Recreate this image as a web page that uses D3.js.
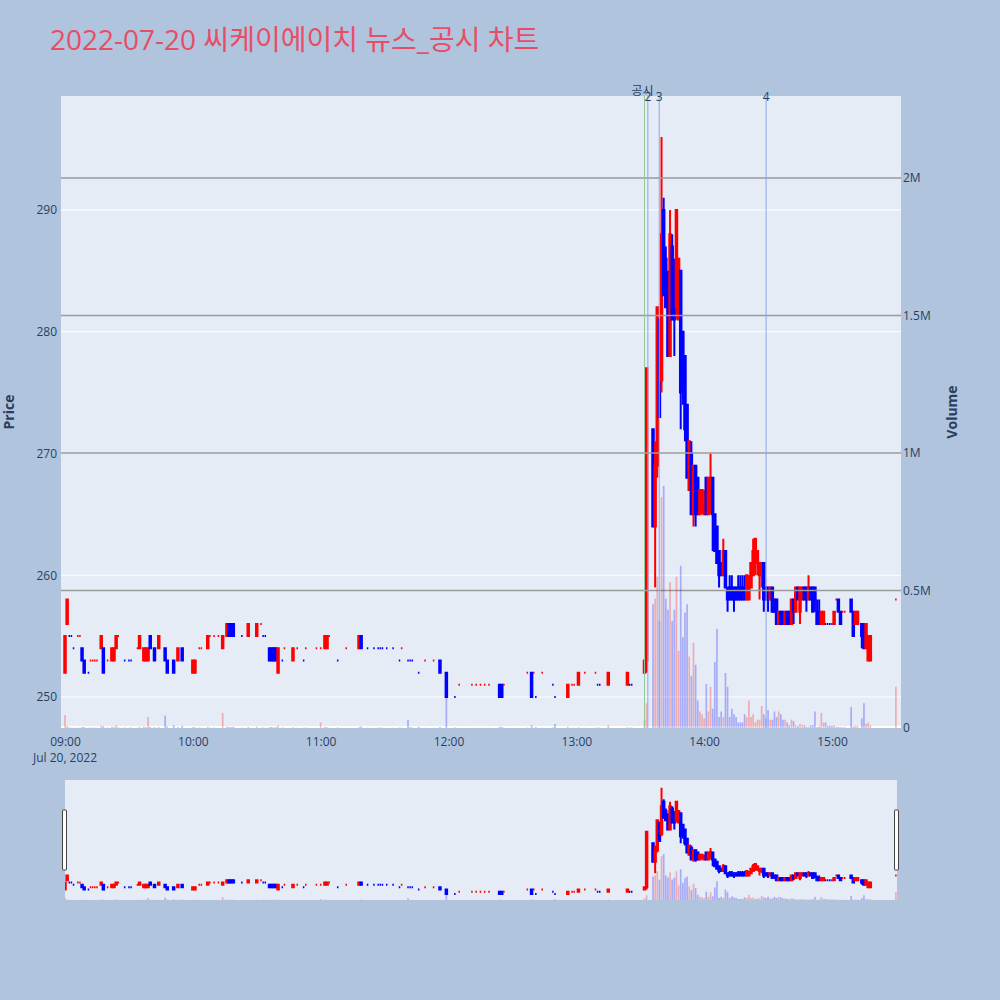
<!DOCTYPE html>
<html lang="ko">
<head>
<meta charset="UTF-8">
<title>씨케이에이치 뉴스_공시 차트</title>
<script src="https://d3js.org/d3.v7.min.js"></script>
<style>
    body { margin: 0; background: #b0c4de; }
    svg { display: block; font-family: "Open Sans", "Noto Sans CJK KR", sans-serif; }
</style>
</head>
<body>
<svg width="1000" height="1000"></svg>
<script>
    // one-minute candles, 2022-07-20
    var times = [
        "09:00","09:01","09:02","09:03","09:04","09:06","09:07","09:08","09:09","09:11",
        "09:12","09:13","09:14","09:15","09:17","09:18","09:20","09:22","09:23","09:24",
        "09:25","09:28","09:30","09:31","09:34","09:35","09:37","09:38","09:39","09:40",
        "09:42","09:44","09:47","09:48","09:51","09:53","09:55","10:00","10:01","10:03",
        "10:04","10:07","10:08","10:10","10:12","10:14","10:16","10:17","10:18","10:19",
        "10:23","10:26","10:30","10:32","10:33","10:34","10:36","10:37","10:38","10:39",
        "10:40","10:42","10:43","10:47","10:49","10:52","10:53","10:58","11:00","11:02",
        "11:03","11:04","11:08","11:12","11:18","11:19","11:22","11:25","11:27","11:28",
        "11:29","11:31","11:34","11:37","11:38","11:41","11:42","11:43","11:46","11:49",
        "11:53","11:56","11:59","12:03","12:05","12:11","12:13","12:15","12:17","12:19",
        "12:24","12:25","12:26","12:37","12:39","12:40","12:41","12:44","12:49","12:50",
        "12:56","12:58","12:59","13:01","13:04","13:09","13:10","13:11","13:15","13:24",
        "13:25","13:26","13:32","13:33",
        "13:36","13:37","13:38","13:39","13:40","13:41","13:42","13:43","13:44","13:45",
        "13:46","13:47","13:48","13:49","13:50","13:51","13:52","13:53","13:54","13:55",
        "13:56","13:57","13:58","13:59","14:00","14:01","14:02","14:03","14:04","14:05",
        "14:06","14:07","14:08","14:09","14:10","14:11","14:12","14:13","14:14","14:15",
        "14:16","14:17","14:18","14:19","14:20","14:21","14:22","14:23","14:24","14:25",
        "14:26","14:27","14:28","14:29","14:30","14:31","14:32","14:33","14:34","14:35",
        "14:36","14:37","14:38","14:39","14:40","14:41","14:42","14:43","14:44","14:45",
        "14:46","14:47","14:48","14:49","14:50","14:51","14:52","14:53","14:54","14:55",
        "14:56","14:57","14:58","14:59","15:00","15:01","15:02","15:03","15:04","15:05",
        "15:06","15:09","15:10","15:11","15:12","15:14","15:15","15:16","15:17","15:18",
        "15:30"
    ];
    var opens = [
        252,256,255,255,254,255,255,254,253,252,
        253,253,253,253,254,254,253,253,253,254,
        255,253,253,253,254,254,253,253,253,255,
        254,254,254,253,253,253,254,252,252,254,
        254,254,255,255,255,254,255,256,256,256,
        255,255,255,256,255,255,254,254,254,254,
        252,253,254,253,254,253,254,254,254,254,
        254,255,253,254,254,255,254,254,254,254,
        254,254,254,253,254,253,253,253,252,253,
        253,253,252,250,251,251,251,251,251,251,
        251,251,251,252,252,252,250,252,251,250,
        250,251,251,251,252,252,251,251,251,251,
        251,251,252,253,
        272,264,269,281,276,290,286,284,278,287,
        284,282,281,285,280,278,274,267,270,265,
        269,268,265,266,265,268,265,266,268,265,
        264,262,261,260,262,259,259,259,259,259,
        259,259,259,259,258,258,259,260,261,261,
        260,260,261,259,259,258,259,258,258,256,
        257,257,256,257,257,256,258,257,259,257,
        258,259,259,258,259,259,259,257,257,256,
        256,256,256,256,256,256,258,258,257,257,
        257,258,257,256,256,256,256,254,253,253,
        258
    ];
    var highs = [
        255,258,255,255,254,255,255,254,253,252,
        253,253,253,253,255,254,253,254,254,255,
        255,253,253,253,254,255,254,254,254,255,
        254,255,254,253,253,254,254,253,253,254,
        254,255,255,255,255,255,256,256,256,256,
        255,256,256,256,255,255,254,254,254,254,
        254,253,254,254,254,253,254,254,254,255,
        255,255,253,254,255,255,254,254,254,254,
        254,254,254,253,254,253,253,253,252,253,
        253,253,252,250,251,251,251,251,251,251,
        251,251,251,252,252,252,250,252,251,250,
        251,251,251,252,252,252,251,251,252,252,
        251,251,253,277,
        272,271,282,281,296,291,287,285,290,288,
        286,290,286,285,280,278,274,271,271,269,
        269,268,267,267,267,268,268,270,268,265,
        264,262,261,263,262,259,260,260,259,259,
        260,260,260,260,260,260,261,263,263,262,
        261,261,261,259,259,259,259,258,258,257,
        257,257,257,257,257,258,258,259,259,259,
        259,259,259,260,259,259,259,258,258,257,
        257,256,256,256,256,257,258,258,257,257,
        257,258,257,257,257,256,256,256,255,255,
        258
    ];
    var lows = [
        252,256,255,255,254,255,255,253,252,252,
        253,253,253,253,254,252,253,253,253,254,
        255,253,253,253,254,254,253,253,253,254,
        253,254,253,252,252,253,253,252,252,254,
        254,254,255,255,255,254,255,255,255,255,
        255,255,255,256,255,255,253,253,253,253,
        252,253,254,253,254,253,254,254,254,254,
        254,255,253,254,254,254,254,254,254,254,
        254,254,254,253,254,253,253,253,252,253,
        253,252,250,250,251,251,251,251,251,251,
        250,250,251,252,250,252,250,252,251,250,
        250,251,251,251,252,252,251,251,251,251,
        251,251,252,252,
        264,259,268,273,275,283,282,278,278,281,
        278,281,281,272,274,271,268,267,265,264,
        264,265,265,265,265,265,265,265,262,262,
        261,259,260,260,259,257,258,258,257,258,
        258,258,258,258,258,258,259,260,260,260,
        258,259,257,258,257,258,257,257,256,256,
        256,256,256,256,256,256,256,257,258,256,
        258,258,257,258,258,257,257,256,256,256,
        256,256,256,256,256,256,258,257,256,257,
        257,257,255,256,256,254,254,254,253,253,
        258
    ];
    var closes = [
        255,258,255,255,254,255,255,253,252,252,
        253,253,253,253,255,252,253,254,254,255,
        255,253,253,253,254,255,254,254,254,254,
        253,255,253,252,252,254,253,253,253,254,
        254,255,255,255,255,255,256,255,255,255,
        255,256,256,256,255,255,253,253,253,253,
        254,253,254,254,254,253,254,254,254,255,
        255,255,253,254,255,254,254,254,254,254,
        254,254,254,253,254,253,253,253,252,253,
        253,252,250,250,251,251,251,251,251,251,
        250,250,251,252,250,252,250,252,251,250,
        251,251,251,252,252,252,251,251,252,252,
        251,251,253,277,
        264,269,282,273,288,283,282,278,288,281,
        281,290,286,275,276,272,268,271,265,269,
        265,265,267,267,266,265,268,268,265,262,
        261,260,260,262,259,258,258,258,258,258,
        258,258,258,258,260,259,261,262,263,262,
        261,261,258,258,258,259,257,257,256,257,
        256,256,257,256,256,258,257,259,258,259,
        259,258,258,259,258,257,258,256,256,257,
        257,256,256,256,256,257,258,257,256,257,
        257,257,255,257,257,255,254,256,255,255,
        258
    ];
    // thousand shares
    var volumeK = [
        47,8,2,1,1,2,1,3,4,1,
        2,1,2,1,8,6,2,5,4,10,
        3,2,1,2,1,5,6,4,40,4,
        3,4,45,6,10,4,8,4,3,2,
        1,5,2,2,1,55,6,4,3,5,
        1,4,5,1,2,1,3,4,2,3,
        10,2,1,3,1,1,2,1,20,5,
        3,1,2,1,4,6,1,1,1,2,
        1,1,1,2,1,30,3,2,5,1,
        1,4,200,2,1,1,1,1,1,1,
        5,4,1,2,10,1,3,1,2,15,
        5,1,1,3,1,1,2,1,10,3,
        1,2,30,90,
        450,470,550,390,840,880,470,430,530,390,
        430,550,280,590,330,420,450,260,190,310,
        230,100,60,50,35,160,60,150,70,240,
        360,40,60,40,200,150,40,70,50,40,
        20,20,20,50,40,100,40,50,20,30,
        30,80,50,35,65,30,30,60,40,60,
        50,30,30,20,10,30,25,10,7,15,
        10,10,5,5,10,10,60,3,6,55,
        20,20,8,8,8,10,5,4,3,3,
        3,76,5,8,8,35,90,15,20,10,
        150
    ];

    var hourTicks = ["09:00","10:00","11:00","12:00","13:00","14:00","15:00"];
    var priceTicks = [250, 260, 270, 280, 290];
    var volumeTicks = [0, 500000, 1000000, 1500000, 2000000];
    var volumeTickLabels = ["0", "0.5M", "1M", "1.5M", "2M"];
    // news / disclosure markers
    var markerTimes = ["13:32:00", "13:33:35", "13:38:55", "14:29:05"];
    var markerLabels = ["공시", "2", "3", "4"];

    var day = "2022-07-20 ";
    var parseMin = d3.timeParse("%Y-%m-%d %H:%M");
    var parseSec = d3.timeParse("%Y-%m-%d %H:%M:%S");
    var textColor = "#2a3f5f";
    var upColor = "#ff0000", downColor = "#0000ff";

    // same up/down rule as plotly: flat candles compare against the previous close
    var data = [];
    var prevClose = null, prevUp = true;
    times.forEach(function (t, i) {
        var o = opens[i], c = closes[i], up;
        if (c > o) up = true;
        else if (c < o) up = false;
        else if (prevClose !== null && c !== prevClose) up = c > prevClose;
        else up = prevUp;
        prevUp = up;
        prevClose = c;
        data.push({date: parseMin(day + t), o: o, h: highs[i], l: lows[i], c: c,
                   v: volumeK[i] * 1000, up: up});
    });

    var plot = {left: 61, right: 901, top: 96, bottom: 728};
    var slider = {left: 65, right: 897, top: 780, bottom: 900};

    var t0 = parseMin(day + "09:00");
    var x = d3.scaleTime()
        .domain([d3.timeSecond.offset(t0, -113), d3.timeSecond.offset(t0, 23544)])
        .range([plot.left, plot.right]);
    var yPrice = d3.scaleLinear().domain([247.454, 299.36]).range([plot.bottom, plot.top]);
    var yVol = d3.scaleLinear().domain([0, 2298000]).range([plot.bottom, plot.top]);
    var yPriceS = yPrice.copy().range([slider.bottom, slider.top]);
    var yVolS = yVol.copy().range([slider.bottom, slider.top]);

    var svg = d3.select("svg");
    svg.append("rect").attr("width", 1000).attr("height", 1000).attr("fill", "#b0c4de");

    svg.append("text")
        .attr("x", 50)
        .attr("y", 50)
        .attr("font-size", "28px")
        .attr("fill", "#e84d66")
        .text("2022-07-20 씨케이에이치 뉴스_공시 차트");

    var defs = svg.append("defs");
    defs.append("clipPath").attr("id", "clipMain").append("rect")
        .attr("x", plot.left).attr("y", plot.top)
        .attr("width", plot.right - plot.left).attr("height", plot.bottom - plot.top);
    defs.append("clipPath").attr("id", "clipSlider").append("rect")
        .attr("x", slider.left).attr("y", slider.top)
        .attr("width", slider.right - slider.left).attr("height", slider.bottom - slider.top);

    svg.append("rect")
        .attr("x", plot.left).attr("y", plot.top)
        .attr("width", plot.right - plot.left).attr("height", plot.bottom - plot.top)
        .attr("fill", "#e5ecf6");

    // price grid (white)
    svg.append("g").selectAll("line")
        .data(priceTicks)
        .enter().append("line")
        .attr("x1", plot.left).attr("x2", plot.right)
        .attr("y1", function (d) { return yPrice(d); })
        .attr("y2", function (d) { return yPrice(d); })
        .attr("stroke", "#ffffff").attr("stroke-width", 1);

    function candlePath(d, xs, ys) {
        var xc = xs(d.date), hw = 0.75;
        var yo = ys(d.o), yc = ys(d.c), yh = ys(d.h), yl = ys(d.l);
        var top = Math.min(yo, yc), bot = Math.max(yo, yc);
        return "M" + (xc - hw) + "," + top + "H" + (xc + hw) + "V" + bot + "H" + (xc - hw) + "Z" +
            "M" + xc + "," + top + "V" + yh + "M" + xc + "," + bot + "V" + yl;
    }

    function drawCandles(g, xs, ys) {
        g.selectAll("path")
            .data(data)
            .enter().append("path")
            .attr("d", function (d) { return candlePath(d, xs, ys); })
            .attr("fill", function (d) { return d.up ? upColor : downColor; })
            .attr("stroke", function (d) { return d.up ? upColor : downColor; })
            .attr("stroke-width", 2);
    }

    function drawVolume(g, xs, ys) {
        g.selectAll("rect")
            .data(data)
            .enter().append("rect")
            .attr("x", function (d) { return xs(d.date) - 0.85; })
            .attr("width", 1.7)
            .attr("y", function (d) { return ys(d.v); })
            .attr("height", function (d) { return ys(0) - ys(d.v); })
            .attr("fill", function (d) { return d.up ? upColor : downColor; })
            .attr("fill-opacity", 0.27);
    }

    var main = svg.append("g").attr("clip-path", "url(#clipMain)");
    drawCandles(main.append("g"), x, yPrice);

    // volume grid (gray) sits on top of the candles
    main.append("g").selectAll("line")
        .data(volumeTicks.slice(1))
        .enter().append("line")
        .attr("x1", plot.left).attr("x2", plot.right)
        .attr("y1", function (d) { return yVol(d); })
        .attr("y2", function (d) { return yVol(d); })
        .attr("stroke", "#9a9a9a").attr("stroke-width", 1.5);
    main.append("line")
        .attr("x1", plot.left).attr("x2", plot.right)
        .attr("y1", yVol(0) - 1).attr("y2", yVol(0) - 1)
        .attr("stroke", "#ffffff").attr("stroke-width", 2);

    drawVolume(main.append("g"), x, yVol);

    // marker lines
    var markers = markerTimes.map(function (t, i) {
        return {date: parseSec(day + t), label: markerLabels[i]};
    });
    svg.append("g").selectAll("line")
        .data(markers)
        .enter().append("line")
        .attr("x1", function (d) { return x(d.date); })
        .attr("x2", function (d) { return x(d.date); })
        .attr("y1", plot.top).attr("y2", plot.bottom)
        .attr("stroke", function (d, i) { return i === 0 ? "#92c99a" : "#8ca6ee"; })
        .attr("stroke-width", 1);
    svg.append("g").selectAll("text")
        .data(markers)
        .enter().append("text")
        .attr("x", function (d, i) { return x(d.date) + (i === 0 ? -2 : 0); })
        .attr("y", function (d, i) { return i === 0 ? 95 : 101; })
        .attr("text-anchor", "middle")
        .attr("font-size", "12px")
        .attr("fill", textColor)
        .text(function (d) { return d.label; });

    // axes
    function styleAxis(g) {
        g.select(".domain").remove();
        g.selectAll("text").attr("fill", textColor).attr("font-size", "12px")
            .attr("font-family", "\"Open Sans\", \"Noto Sans CJK KR\", sans-serif");
    }

    svg.append("g")
        .attr("transform", "translate(0," + plot.bottom + ")")
        .call(d3.axisBottom(x)
            .tickValues(hourTicks.map(function (t) { return parseMin(day + t); }))
            .tickFormat(d3.timeFormat("%H:%M"))
            .tickSize(0).tickPadding(9))
        .call(styleAxis);

    svg.append("text")
        .attr("x", x(t0)).attr("y", 762)
        .attr("text-anchor", "middle")
        .attr("font-size", "12px")
        .attr("fill", textColor)
        .text("Jul 20, 2022");

    svg.append("g")
        .attr("transform", "translate(" + plot.left + ",0)")
        .call(d3.axisLeft(yPrice).tickValues(priceTicks).tickSize(0).tickPadding(4))
        .call(styleAxis);

    svg.append("g")
        .attr("transform", "translate(" + plot.right + ",0)")
        .call(d3.axisRight(yVol).tickValues(volumeTicks)
            .tickFormat(function (d, i) { return volumeTickLabels[i]; })
            .tickSize(0).tickPadding(2))
        .call(styleAxis);

    svg.append("text")
        .attr("transform", "translate(14," + ((plot.top + plot.bottom) / 2) + ") rotate(-90)")
        .attr("text-anchor", "middle")
        .attr("font-size", "14px")
        .attr("font-weight", "bold")
        .attr("fill", textColor)
        .text("Price");

    svg.append("text")
        .attr("transform", "translate(957," + ((plot.top + plot.bottom) / 2) + ") rotate(-90)")
        .attr("text-anchor", "middle")
        .attr("font-size", "14px")
        .attr("font-weight", "bold")
        .attr("fill", textColor)
        .text("Volume");

    // range slider
    svg.append("rect")
        .attr("x", slider.left).attr("y", slider.top)
        .attr("width", slider.right - slider.left).attr("height", slider.bottom - slider.top)
        .attr("fill", "#e5ecf6");
    var mini = svg.append("g").attr("clip-path", "url(#clipSlider)");
    drawCandles(mini.append("g"), x, yPriceS);
    drawVolume(mini.append("g"), x, yVolS);

    var handleY = slider.top + (slider.bottom - slider.top) / 4;
    [slider.left, slider.right].forEach(function (hx) {
        svg.append("rect")
            .attr("x", hx - 2.5).attr("y", handleY)
            .attr("width", 4).attr("height", (slider.bottom - slider.top) / 2)
            .attr("rx", 0.5)
            .attr("fill", "#ffffff")
            .attr("stroke", "#444444")
            .attr("stroke-width", 1);
    });
</script>
</body>
</html>
